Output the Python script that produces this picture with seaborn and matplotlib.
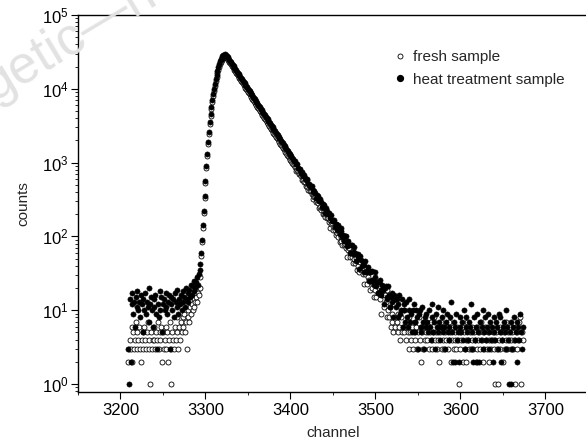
import numpy as np
import pandas as pd
import matplotlib
matplotlib.use("Agg")
import matplotlib.pyplot as plt
import seaborn as sns
from matplotlib.lines import Line2D
from matplotlib.ticker import LogLocator, MultipleLocator, NullFormatter

# channel range covered by both spectra
first_channel = 3209
last_channel = 3673

# fresh sample (open circles), counts per channel
fresh_left = [
    2, 3, 4, 3, 6, 2, 5, 3, 4, 7,
    3, 5, 4, 6, 3, 2, 4, 5, 3, 6,
    4, 3, 5, 7, 4, 3, 1, 5, 3, 4,
    6, 4, 3, 5, 4, 7, 3, 5, 4, 6,
    2, 5, 3, 4, 6, 3, 5, 2, 4, 7,
    3, 1, 5, 4, 3, 6, 4, 5, 8, 3,
    6, 4, 7, 5, 8, 6, 9, 5, 7, 3,
    8, 10, 7, 11, 9, 12, 10, 14, 11, 13,
    15, 13, 17, 16, 20, 28,
]
fresh_rise = [
    55, 84, 132, 210, 335, 530, 840, 1240, 1790, 2470,
    3330, 4290, 5400, 6640, 7980, 9370, 10990, 12600, 14450, 16200,
    18150, 19880, 21770, 23300, 24400, 25500, 26300, 26700, 26800, 26700,
]
fresh_decay = [
    26500, 25400, 24340, 23320, 22350, 21420, 20520, 19670, 18850, 18060,
    17310, 16590, 15890, 15230, 14600, 13990, 13400, 12850, 12310, 11800,
    11300, 10830, 10380, 9950, 9530, 9140, 8750, 8390, 8040, 7700,
    7380, 7070, 6780, 6500, 6230, 5970, 5720, 5480, 5250, 5030,
    4820, 4620, 4430, 4240, 4070, 3900, 3730, 3580, 3430, 3290,
    3150, 3020, 2890, 2770, 2660, 2545, 2440, 2340, 2240, 2150,
    2060, 1970, 1890, 1810, 1730, 1660, 1590, 1525, 1460, 1400,
    1345, 1285, 1235, 1180, 1135, 1085, 1040, 995, 955, 915,
    869, 870, 764, 782, 777, 692, 696, 652, 671, 577,
    584, 541, 553, 479, 502, 467, 429, 458, 408, 407,
    370, 379, 317, 337, 340, 292, 303, 280, 298, 243,
    253, 230, 243, 200, 220, 201, 181, 204, 175, 178,
    159, 168, 132, 147, 153, 124, 134, 122, 136, 103,
    111, 99, 110, 84, 99, 88, 77, 93, 76, 80,
    69, 76, 53, 66, 70, 53, 61, 53, 64, 43,
    50, 44, 51, 35, 46, 40, 33, 45, 35, 37,
    31, 37, 23, 31, 34, 23, 28, 26, 33, 19,
    24, 20, 26, 15, 23, 19, 15, 24, 17, 20,
    14, 19, 9, 16, 18, 11, 16, 13, 19, 8,
    10, 8, 11, 6, 9, 7, 5, 12, 6, 8,
    7, 5, 9, 6, 4, 8, 5, 6, 10, 5,
    6, 4, 7, 5, 3, 8, 5, 4, 6, 3,
    5, 7, 4, 6, 3, 5, 8, 4, 2, 6,
    5, 3, 7, 4, 6, 5,
]
fresh_tail = [
    4, 6, 3, 5, 7, 4, 3, 5, 8, 4,
    5, 3, 6, 4, 2, 5, 7, 3, 4, 6,
    3, 5, 4, 6, 3, 4, 7, 5, 2, 4,
    6, 3, 5, 4, 3, 6, 4, 1, 5, 3,
    4, 6, 2, 5, 3, 4, 2, 7, 4, 3,
    5, 3, 4, 6, 3, 5, 4, 2, 6, 3,
    4, 5, 3, 7, 4, 2, 5, 3, 6, 4,
    3, 5, 4, 2, 6, 3, 4, 5, 3, 4,
    1, 5, 3, 1, 4, 6, 3, 5, 4, 2,
    5, 3, 7, 4, 3, 5, 4, 6, 3, 4,
    5, 3, 4, 1, 6, 3, 5, 4, 7, 8,
    1, 5, 4,
]

# heat treatment sample (filled circles), counts per channel
heat_left = [
    3, 1, 14, 2, 12, 17, 9, 13, 6, 15,
    11, 18, 10, 13, 8, 16, 12, 5, 14, 10,
    17, 9, 13, 11, 20, 7, 12, 15, 10, 6,
    14, 11, 16, 9, 3, 12, 8, 18, 10, 15,
    5, 12, 14, 10, 17, 11, 9, 13, 16, 3,
    12, 15, 10, 14, 8, 17, 13, 11, 19, 9,
    14, 12, 16, 10, 18, 13, 15, 11, 20, 14,
    17, 13, 19, 15, 22, 16, 21, 18, 25, 20,
    24, 28, 22, 31, 35, 42,
]
heat_rise = [
    60, 89, 141, 224, 355, 562, 891, 1318, 1905, 2630,
    3548, 4571, 5754, 7079, 8511, 10000, 11750, 13490, 15490, 17380,
    19500, 21380, 23440, 25120, 26300, 27540, 28500, 29000, 29170, 28840,
]
heat_decay = [
    28200, 27060, 25950, 24900, 23890, 22920, 21990, 21100, 20240, 19420,
    18630, 17880, 17150, 16450, 15790, 15140, 14530, 13940, 13370, 12830,
    12310, 11810, 11330, 10870, 10430, 10010, 9600, 9210, 8840, 8480,
    8130, 7800, 7490, 7180, 6890, 6610, 6340, 6090, 5840, 5600,
    5370, 5160, 4950, 4750, 4550, 4370, 4190, 4020, 3860, 3700,
    3550, 3410, 3270, 3135, 3010, 2885, 2770, 2655, 2550, 2445,
    2350, 2250, 2160, 2070, 1990, 1905, 1830, 1755, 1685, 1615,
    1550, 1490, 1425, 1370, 1315, 1260, 1210, 1160, 1115, 1065,
    1045, 950, 956, 951, 856, 831, 829, 729, 743, 729,
    658, 682, 619, 578, 588, 596, 516, 516, 461, 484,
    479, 426, 394, 416, 384, 336, 365, 357, 317, 299,
    326, 291, 254, 271, 269, 243, 206, 244, 223, 199,
    207, 176, 188, 195, 162, 160, 168, 133, 146, 147,
    124, 141, 121, 108, 118, 128, 99, 104, 86, 100,
    102, 83, 73, 87, 77, 60, 76, 77, 62, 58,
    72, 60, 47, 56, 58, 50, 36, 55, 48, 40,
    45, 33, 41, 46, 33, 34, 39, 25, 33, 34,
    25, 34, 26, 22, 28, 33, 21, 24, 17, 24,
    26, 19, 16, 22, 19, 12, 20, 21, 15, 14,
    21, 16, 11, 15, 17, 13, 8, 16, 14, 11,
    14, 8, 12, 16, 9, 10, 14, 6, 10, 12,
    7, 13, 8, 6, 10, 14, 7, 9, 5, 10,
    12, 7, 5, 10, 8, 3, 9, 10, 6, 5,
    11, 7, 3, 8, 9, 6,
]
heat_tail = [
    7, 5, 10, 6, 4, 8, 12, 5, 7, 3,
    9, 6, 5, 11, 7, 4, 6, 8, 5, 10,
    6, 3, 7, 9, 5, 6, 4, 8, 13, 5,
    2, 7, 6, 2, 9, 4, 5, 2, 8, 6,
    5, 7, 4, 10, 3, 6, 8, 5, 4, 7,
    6, 12, 3, 5, 2, 8, 4, 6, 2, 9,
    5, 2, 7, 4, 6, 3, 10, 5, 8, 4,
    6, 9, 3, 5, 7, 4, 6, 2, 8, 5,
    4, 7, 6, 3, 9, 5, 8, 2, 4, 6,
    7, 5, 3, 10, 6, 4, 1, 5, 1, 7,
    3, 6, 8, 4, 5, 7, 2, 6, 4, 9,
    5, 3, 6,
]

series_labels = ["fresh sample", "heat treatment sample"]

channels = np.arange(first_channel, last_channel + 1)
fresh_counts = np.array(fresh_left + fresh_rise + fresh_decay + fresh_tail)
heat_counts = np.array(heat_left + heat_rise + heat_decay + heat_tail)

df = pd.DataFrame({
    "channel": np.concatenate([channels, channels]),
    "counts": np.concatenate([fresh_counts, heat_counts]),
    "sample": [series_labels[0]] * len(channels) + [series_labels[1]] * len(channels),
})

sns.set_style("ticks")
fs = 11
plt.rcParams["font.family"] = ["Liberation Sans", "DejaVu Sans"]
plt.rcParams["mathtext.fontset"] = "custom"
plt.rcParams["mathtext.rm"] = "Liberation Sans"

fig = plt.figure(figsize=(5.86, 4.46), dpi=100)
ax = fig.add_axes([0.1331, 0.1211, 0.8703, 0.8453])
ax.set_facecolor("none")

# faint watermark in the top-left corner
fig.text(-0.01, 0.772, "getic\u2014h", fontsize=38, color="#e2e2e2",
         rotation=31, rotation_mode="anchor", ha="left", va="baseline",
         zorder=0)

fresh = df[df["sample"] == series_labels[0]]
heat = df[df["sample"] == series_labels[1]]
sns.scatterplot(data=fresh, x="channel", y="counts", ax=ax, marker="o", s=13,
                color="white", edgecolor="black", linewidth=0.6, legend=False)
sns.scatterplot(data=heat, x="channel", y="counts", ax=ax, marker="o", s=14,
                color="black", edgecolor="black", linewidth=0.4, legend=False)

ax.set_yscale("log")
ax.set_xlim(3150, 3750)
ax.set_ylim(0.78, 1e5)
ax.xaxis.set_major_locator(MultipleLocator(100))
ax.xaxis.set_minor_locator(MultipleLocator(50))
ax.yaxis.set_major_locator(LogLocator(base=10, numticks=10))
ax.yaxis.set_minor_locator(LogLocator(base=10, subs=np.arange(2, 10), numticks=20))
ax.yaxis.set_minor_formatter(NullFormatter())

ax.tick_params(which="major", direction="out", length=5, width=0.8,
               labelsize=fs + 1, pad=3, colors="black")
ax.tick_params(which="minor", direction="out", length=2.5, width=0.7)
ax.tick_params(axis="y", which="major", pad=1.5)

for side in ["left", "bottom", "top"]:
    ax.spines[side].set_linewidth(1.0)
    ax.spines[side].set_color("black")
ax.spines["right"].set_visible(False)

ax.set_xlabel("channel", fontsize=fs)
ax.set_ylabel("counts", fontsize=fs)
ax.xaxis.set_label_coords(0.5, -0.09)
ax.yaxis.set_label_coords(-0.094, 0.5)

handles = [
    Line2D([], [], marker="o", ls="none", mfc="white", mec="black", ms=3.6, mew=0.6),
    Line2D([], [], marker="o", ls="none", mfc="black", mec="black", ms=4.2),
]
ax.legend(handles, series_labels, loc="upper left",
          bbox_to_anchor=(0.648, 0.918), bbox_transform=fig.transFigure,
          frameon=False, fontsize=fs, handlelength=0.8, handletextpad=0.5,
          labelspacing=0.55, borderpad=0.4)

fig.savefig("out.png", dpi=100)
